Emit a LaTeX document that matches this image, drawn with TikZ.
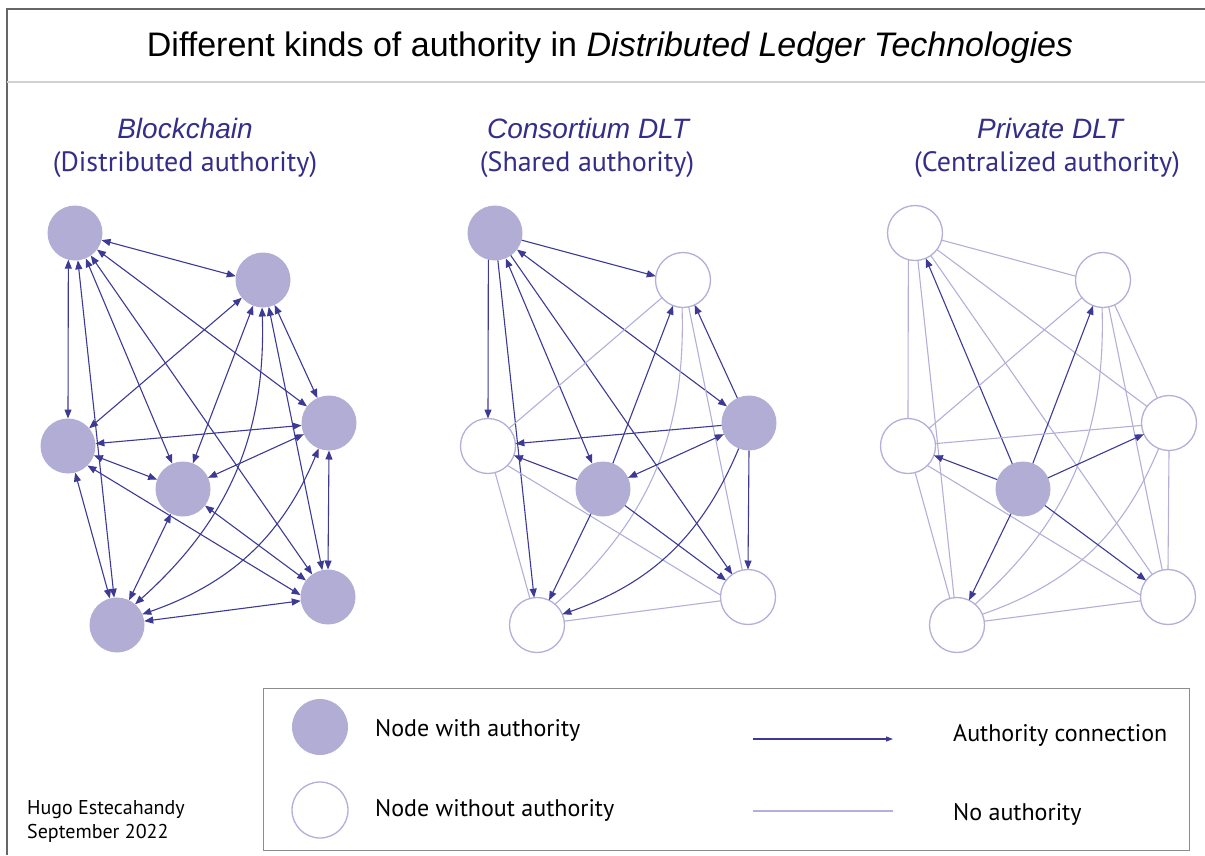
\documentclass[tikz,border=0pt]{standalone}
\usepackage{fontspec}
\setmainfont{PT Sans}
\newfontfamily\arialfont{Liberation Sans}
\usetikzlibrary{arrows.meta}

\definecolor{authfill}{RGB}{177,173,212}
\definecolor{authblue}{RGB}{60,58,148}
\definecolor{lightline}{RGB}{178,175,216}
\definecolor{headblue}{RGB}{52,46,136}

\begin{document}
\begin{tikzpicture}[x=1pt,y=-1pt,
    >={Triangle[length=9pt,width=7pt]},
    authnode/.style={circle,fill=authfill,minimum size=55pt,inner sep=0pt,outer sep=0pt},
    plainnode/.style={circle,draw=lightline,line width=1.3pt,fill=white,minimum size=55pt,inner sep=0pt,outer sep=0pt},
    authlink/.style={authblue,line width=1.1pt},
    noauth/.style={lightline,line width=1.1pt},
    headname/.style={font=\arialfont\itshape\fontsize{28}{32}\selectfont,text=headblue,anchor=base},
    headsub/.style={font=\fontsize{28}{32}\selectfont,text=headblue,anchor=base},
    keytext/.style={font=\fontsize{24}{28}\selectfont,anchor=base west,inner sep=0pt},
    credit/.style={font=\fontsize{20}{24}\selectfont,anchor=base west,inner sep=0pt}]

\useasboundingbox (0,0) rectangle (1205,855);

% 外框
\draw[black!60,line width=1.5pt] (1205,9) -- (7,9) -- (7,855);
\draw[black!18,line width=2.5pt] (7,82) -- (1205,82);
\draw[black!45,line width=1pt] (263,688) rectangle (1189,850);

% 标题
\node[font=\arialfont\fontsize{34}{40}\selectfont,anchor=base] (title) at (610,56)
    {Different kinds of authority in \textit{Distributed Ledger Technologies}};

\node[headname] (bname) at (185,138) {Blockchain};
\node[headsub] (bsub) at (185,171) {(Distributed authority)};
\node[headname] (cname) at (588,138) {Consortium DLT};
\node[headsub] (csub) at (587,171) {(Shared authority)};
\node[headname] (pname) at (1050,138) {Private DLT};
\node[headsub] (psub) at (1047,171) {(Centralized authority)};

% 每个节点是否有权限
\def\authb{{1,1,1,1,1,1,1}}
\def\authc{{1,0,0,1,1,0,0}}
\def\authp{{0,0,0,0,1,0,0}}

\foreach \pre/\xo/\auth in {b/0/\authb, c/420/\authc, p/840/\authp} {
    % 画节点
    \foreach \i/\x/\y in {1/75/233, 2/263/280, 3/68/446, 4/329/423,
                          5/183/489, 6/117/625, 7/328/597} {
        \pgfmathtruncatemacro\isauth{\auth[\i-1]}
        \ifnum\isauth=1
            \node[authnode] (\pre\i) at (\x+\xo,\y) {};
        \else
            \node[plainnode] (\pre\i) at (\x+\xo,\y) {};
        \fi
    }
    % 画连线 (起点/角度/终点/角度/弯曲)
    \foreach \i/\si/\j/\sj/\bend in {1/-15/2/172/0, 1/-104/3/90/0, 1/-37/4/143/0,
            1/-67/5/113/0, 1/-84/6/96/0, 1/-55/7/125/0, 2/-140/3/40/0,
            2/-65/4/115/0, 2/-111/5/69/0, 2/-92/6/49/25, 2/-78/7/102/0,
            3/5/4/-175/0, 3/-20/5/160/0, 3/-75/6/105/0, 3/-45/7/176/0,
            4/-156/5/24/0, 4/-112/6/23/24, 4/-90/7/90/0, 5/-116/6/64/0,
            5/-37/7/143/0, 6/8/7/-172/0} {
        \pgfmathtruncatemacro\ai{\auth[\i-1]}
        \pgfmathtruncatemacro\aj{\auth[\j-1]}
        \pgfmathtruncatemacro\code{2*\ai+\aj}
        \ifcase\code
            \draw[noauth] (\pre\i.\si) to[bend left=\bend] (\pre\j.\sj);
        \or
            \draw[authlink,<-] (\pre\i.\si) to[bend left=\bend] (\pre\j.\sj);
        \or
            \draw[authlink,->] (\pre\i.\si) to[bend left=\bend] (\pre\j.\sj);
        \or
            \draw[authlink,<->] (\pre\i.\si) to[bend left=\bend] (\pre\j.\sj);
        \fi
    }
}

% 图例
\node[authnode,minimum size=56pt] (keyauth) at (320,727) {};
\node[plainnode,minimum size=56pt] (keyplain) at (320,810) {};
\node[keytext] (keyauthtxt) at (375,736) {Node with authority};
\node[keytext] (keyplaintxt) at (375,816) {Node without authority};
\coordinate (linkS) at (753,739);
\coordinate (linkE) at (893,739);
\draw[authlink,-{Triangle[length=7pt,width=5pt]}] (linkS) -- (linkE);
\coordinate (noS) at (753,811);
\coordinate (noE) at (893,811);
\draw[noauth,line width=2pt] (noS) -- (noE);
\node[keytext] (linktxt) at (953,741) {Authority connection};
\node[keytext] (notxt) at (953,820) {No authority};

% 作者
\node[credit] (author) at (27,814) {Hugo Estecahandy};
\node[credit] (date) at (27,838) {September 2022};

\end{tikzpicture}
\end{document}
